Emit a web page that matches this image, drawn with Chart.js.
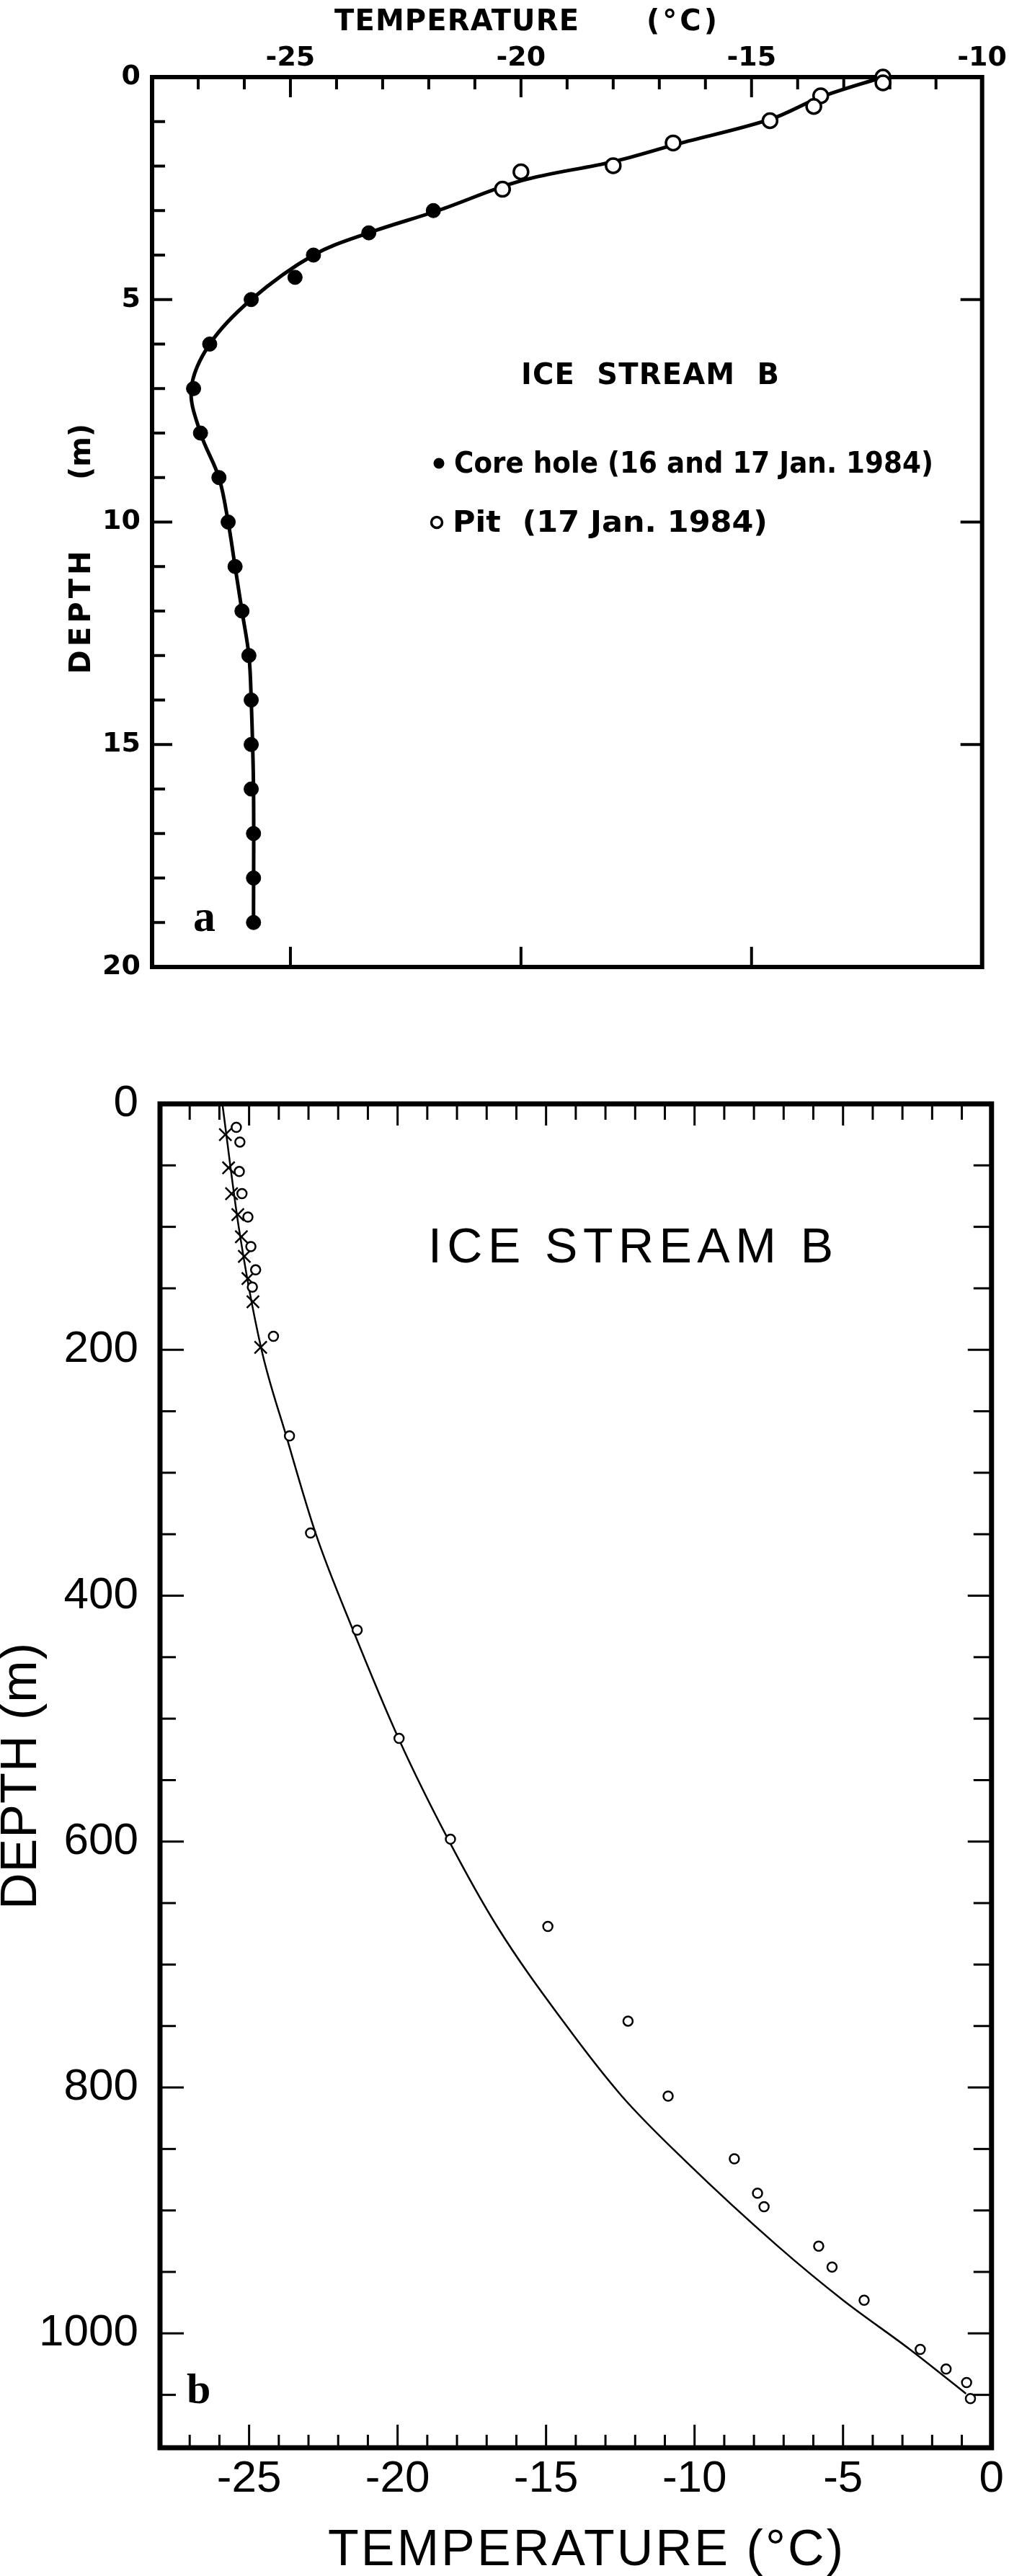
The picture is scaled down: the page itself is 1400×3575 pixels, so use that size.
<!DOCTYPE html>
<html lang="en">

<head>
    <meta charset="UTF-8">
    <meta name="viewport" content="width=device-width, initial-scale=1.0">
    <title>Ice Stream B temperature profiles</title>
    <script src="https://cdn.jsdelivr.net/npm/chart.js"></script>
    <style>
        html, body { margin: 0; padding: 0; background: #fff; }
        #wrap_a { position: absolute; left: 0; top: 0; width: 1400px; height: 1400px; }
        #wrap_b { position: absolute; left: 0; top: 1400px; width: 1400px; height: 2175px; }
    </style>
</head>

<body>
    <div id="wrap_a"><canvas id="canvas"></canvas></div>
    <div id="wrap_b"><canvas id="canvas_2"></canvas></div>
</body>

</html>
<script>
    // ---------- panel a : top 20 m ----------
    const coreTemp = [-21.9, -23.3, -24.5, -24.9, -25.85, -26.75, -27.1, -26.95, -26.55, -26.35,
        -26.2, -26.05, -25.9, -25.85, -25.85, -25.85, -25.8, -25.8, -25.8];
    const coreDepth = [3.0, 3.5, 4.0, 4.5, 5, 6, 7, 8, 9, 10, 11, 12, 13, 14, 15, 16, 17, 18, 19];
    const pitTemp = [-12.15, -12.15, -13.5, -13.65, -14.6, -16.7, -18.0, -20.0, -20.4];
    const pitDepth = [0.0, 0.13, 0.42, 0.66, 0.98, 1.48, 1.99, 2.13, 2.52];
    const curveATemp = [-12.15, -13.5, -14.6, -16.6, -18.0, -20.0, -21.8, -23.3, -24.5, -25.85,
        -26.75, -27.15, -26.95, -26.55, -26.35, -26.2, -26.05, -25.9, -25.85, -25.8, -25.8];
    const curveADepth = [0, 0.45, 0.95, 1.5, 1.9, 2.33, 3.0, 3.5, 4.0, 5.0,
        6, 7, 8, 9, 10, 11, 12, 13, 14, 16, 19];
    const xLabelsA = [-25, -20, -15, -10];
    const yLabelsA = [0, 5, 10, 15, 20];

    // ---------- panel b : whole borehole ----------
    const holeTemp = [-25.43, -25.31, -25.33, -25.24, -25.04, -24.94, -24.78, -24.89, -24.18, -23.64,
        -22.93, -21.36, -19.95, -18.22, -14.94, -12.24, -10.89, -8.66, -7.88, -7.66,
        -5.82, -5.37, -4.29, -2.40, -1.53, -0.84, -0.71];
    const holeDepth = [19, 31, 55, 73, 92, 116, 135, 149, 189, 270,
        349, 428, 516, 598, 669, 746, 807, 858, 886, 897,
        929, 946, 973, 1013, 1029, 1040, 1053];
    const shallowTemp = [-25.8, -25.69, -25.59, -25.38, -25.26, -25.16, -25.04, -24.87, -24.61];
    const shallowDepth = [25, 52, 73, 90, 108, 124, 142, 161, 198];
    const curveBTemp = [-25.9, -25.35, -24.6, -23.75, -22.75, -21.5, -19.95, -18.3, -16.65,
        -14.4, -12.45, -10.3, -7.2, -5.0, -2.75, -0.86];
    const curveBDepth = [0, 100, 198, 270, 350, 428, 517, 598, 669,
        747, 807, 860, 929, 973, 1013, 1049];
    const xLabelsB = [-25, -20, -15, -10, -5, 0];
    const yLabelsB = [0, 200, 400, 600, 800, 1000];

    function pts(xs, ys) {
        return xs.map((x, i) => ({ x: x, y: ys[i] }));
    }

    function line(ctx, x1, y1, x2, y2) {
        ctx.beginPath();
        ctx.moveTo(x1, y1);
        ctx.lineTo(x2, y2);
        ctx.stroke();
    }

    // text helper: width is stretched with letter spacing, or squeezed
    function putText(ctx, txt, o) {
        ctx.save();
        ctx.font = o.font;
        ctx.fillStyle = '#000';
        ctx.textAlign = 'left';
        ctx.textBaseline = 'alphabetic';
        ctx.translate(o.x, o.y);
        if (o.rotate) ctx.rotate(o.rotate);
        const w = ctx.measureText(txt).width;
        let dx = 0;
        if (o.width) {
            if (o.squeeze) {
                ctx.scale(o.width / w, 1);
                if (o.center) dx = -w / 2;
            } else {
                if (txt.length > 1) ctx.letterSpacing = ((o.width - w) / (txt.length - 1)) + 'px';
                if (o.center) dx = -o.width / 2;
            }
        }
        ctx.fillText(txt, dx, 0);
        ctx.restore();
    }

    // frame + inward ticks on all four sides
    const framePlugin = {
        id: 'frame',
        beforeDatasetsDraw(chart, args, o) {
            const { ctx, chartArea: a } = chart;
            const x = chart.scales.x, y = chart.scales.y;
            ctx.save();
            ctx.strokeStyle = '#000';
            ctx.lineCap = 'butt';
            ctx.lineWidth = o.tickWidth;
            x.ticks.forEach(t => {
                const p = x.getPixelForValue(t.value);
                const m = Math.abs(t.value % o.xMajor) < 1e-9 ? 0 : 1;
                if (o.top[m]) line(ctx, p, a.top, p, a.top + o.top[m]);
                if (o.bottom[m]) line(ctx, p, a.bottom, p, a.bottom - o.bottom[m]);
            });
            y.ticks.forEach(t => {
                const p = y.getPixelForValue(t.value);
                const m = Math.abs(t.value % o.yMajor) < 1e-9 ? 0 : 1;
                if (o.left[m]) line(ctx, a.left, p, a.left + o.left[m], p);
                if (o.right[m]) line(ctx, a.right, p, a.right - o.right[m], p);
            });
            ctx.lineWidth = o.frameWidth;
            ctx.strokeRect(a.left, a.top, a.right - a.left, a.bottom - a.top);
            ctx.restore();
        }
    };

    // ---------- chart a ----------
    const fontA = '"DejaVu Sans"';
    const textA = {
        id: 'textA',
        afterDraw(chart) {
            const ctx = chart.ctx;
            const f = 'bold 40px ' + fontA;
            putText(ctx, 'TEMPERATURE', { x: 464, y: 42, width: 339, font: f });
            putText(ctx, '(°C)', { x: 897, y: 42, width: 98, font: f });
            putText(ctx, 'ICE  STREAM  B', { x: 723, y: 533, width: 358, font: f });
            putText(ctx, 'Core hole (16 and 17 Jan. 1984)', { x: 630, y: 656, width: 665, squeeze: true, font: f });
            putText(ctx, 'Pit  (17 Jan. 1984)', { x: 628, y: 738, width: 437, squeeze: true, font: f });
            putText(ctx, 'DEPTH', { x: 125, y: 850, width: 171, center: true, rotate: -Math.PI / 2, font: f });
            putText(ctx, '(m)', { x: 125, y: 627, width: 78, center: true, rotate: -Math.PI / 2, font: f });
            putText(ctx, 'a', { x: 268, y: 1292, font: 'bold 62px "Liberation Serif"' });
            // legend symbols
            ctx.save();
            ctx.fillStyle = '#000';
            ctx.beginPath();
            ctx.arc(609, 643, 7.5, 0, Math.PI * 2);
            ctx.fill();
            ctx.lineWidth = 3.5;
            ctx.strokeStyle = '#000';
            ctx.beginPath();
            ctx.arc(606, 725, 7.5, 0, Math.PI * 2);
            ctx.stroke();
            ctx.restore();
        }
    };

    const ctx = document.getElementById('canvas').getContext('2d');
    const chart = new Chart(ctx, {
        type: 'scatter',
        data: {
            datasets: [{
                label: 'Pit (17 Jan. 1984)',
                data: pts(pitTemp, pitDepth),
                pointRadius: 10,
                backgroundColor: '#fff',
                borderColor: '#000',
                borderWidth: 3.5,
                clip: false,
                order: 0
            }, {
                label: 'Core hole (16 and 17 Jan. 1984)',
                data: pts(coreTemp, coreDepth),
                pointRadius: 10,
                backgroundColor: '#000',
                borderColor: '#000',
                borderWidth: 1,
                clip: false,
                order: 1
            }, {
                label: 'curve',
                data: pts(curveATemp, curveADepth),
                showLine: true,
                pointRadius: 0,
                borderColor: '#000',
                borderWidth: 5,
                tension: 0.35,
                clip: false,
                order: 2
            }]
        },
        options: {
            responsive: true,
            maintainAspectRatio: false,
            animation: false,
            events: [],
            layout: { padding: { left: 0, top: 0, right: 25, bottom: 58 } },
            plugins: {
                legend: { display: false },
                tooltip: { enabled: false },
                frame: {
                    tickWidth: 4, frameWidth: 6, xMajor: 5, yMajor: 5,
                    top: [28, 17], bottom: [28, 0], left: [28, 18], right: [30, 0]
                }
            },
            scales: {
                x: {
                    type: 'linear', position: 'top', min: -28, max: -10,
                    grid: { display: false, drawTicks: false },
                    border: { display: false },
                    ticks: {
                        stepSize: 1, autoSkip: false, maxRotation: 0, padding: 3, color: '#000',
                        font: { family: fontA, size: 38, weight: 'bold' },
                        callback: v => xLabelsA.includes(v) ? String(v) : ''
                    },
                    afterFit: s => { s.height = 107; }
                },
                y: {
                    type: 'linear', reverse: true, min: 0, max: 20,
                    grid: { display: false, drawTicks: false },
                    border: { display: false },
                    ticks: {
                        stepSize: 1, autoSkip: false, padding: 16, color: '#000',
                        font: { family: fontA, size: 38, weight: 'bold' },
                        callback: v => yLabelsA.includes(v) ? String(v) : ''
                    },
                    afterFit: s => { s.width = 211; }
                }
            }
        },
        plugins: [framePlugin, textA]
    });

    // ---------- chart b ----------
    const fontB = '"Liberation Sans"';
    const textB = {
        id: 'textB',
        afterDraw(chart) {
            const ctx = chart.ctx;
            const off = 1400;
            putText(ctx, 'ICE STREAM B', { x: 594, y: 1752 - off, width: 562, font: '68px ' + fontB });
            putText(ctx, 'TEMPERATURE (°C)', { x: 455, y: 3560 - off, width: 715, font: '70px ' + fontB });
            putText(ctx, 'DEPTH (m)', { x: 50, y: 2465 - off, width: 370, center: true, rotate: -Math.PI / 2, font: '70px ' + fontB });
            putText(ctx, 'b', { x: 259, y: 3335 - off, font: 'bold 60px "Liberation Serif"' });
        }
    };

    const ctx_2 = document.getElementById('canvas_2').getContext('2d');
    const chart_2 = new Chart(ctx_2, {
        type: 'scatter',
        data: {
            datasets: [{
                label: 'borehole',
                data: pts(holeTemp, holeDepth),
                pointRadius: 6.5,
                backgroundColor: '#fff',
                borderColor: '#000',
                borderWidth: 2.5,
                clip: false,
                order: 0
            }, {
                label: 'shallow',
                data: pts(shallowTemp, shallowDepth),
                pointStyle: 'crossRot',
                pointRadius: 12,
                borderColor: '#000',
                borderWidth: 2.5,
                clip: false,
                order: 1
            }, {
                label: 'curve',
                data: pts(curveBTemp, curveBDepth),
                showLine: true,
                pointRadius: 0,
                borderColor: '#000',
                borderWidth: 2.5,
                cubicInterpolationMode: 'monotone',
                clip: false,
                order: 2
            }]
        },
        options: {
            responsive: true,
            maintainAspectRatio: false,
            animation: false,
            events: [],
            layout: { padding: { left: 0, top: 132, right: 22, bottom: 0 } },
            plugins: {
                legend: { display: false },
                tooltip: { enabled: false },
                frame: {
                    tickWidth: 3, frameWidth: 7, xMajor: 5, yMajor: 200,
                    top: [30, 22], bottom: [32, 18], left: [33, 22], right: [33, 25]
                }
            },
            scales: {
                x: {
                    type: 'linear', position: 'bottom', min: -28, max: 0,
                    grid: { display: false, drawTicks: false },
                    border: { display: false },
                    ticks: {
                        stepSize: 1, autoSkip: false, maxRotation: 0, padding: 7, color: '#000',
                        font: { family: fontB, size: 62 },
                        callback: v => xLabelsB.includes(v) ? String(v) : ''
                    },
                    afterFit: s => { s.height = 178; }
                },
                y: {
                    type: 'linear', reverse: true, min: 0, max: 1093,
                    grid: { display: false, drawTicks: false },
                    border: { display: false },
                    ticks: {
                        stepSize: 50, autoSkip: false, includeBounds: false, padding: 30, color: '#000',
                        font: { family: fontB, size: 62 },
                        callback: v => yLabelsB.includes(v) ? String(v) : ''
                    },
                    afterFit: s => { s.width = 222; }
                }
            }
        },
        plugins: [framePlugin, textB]
    });
</script>
